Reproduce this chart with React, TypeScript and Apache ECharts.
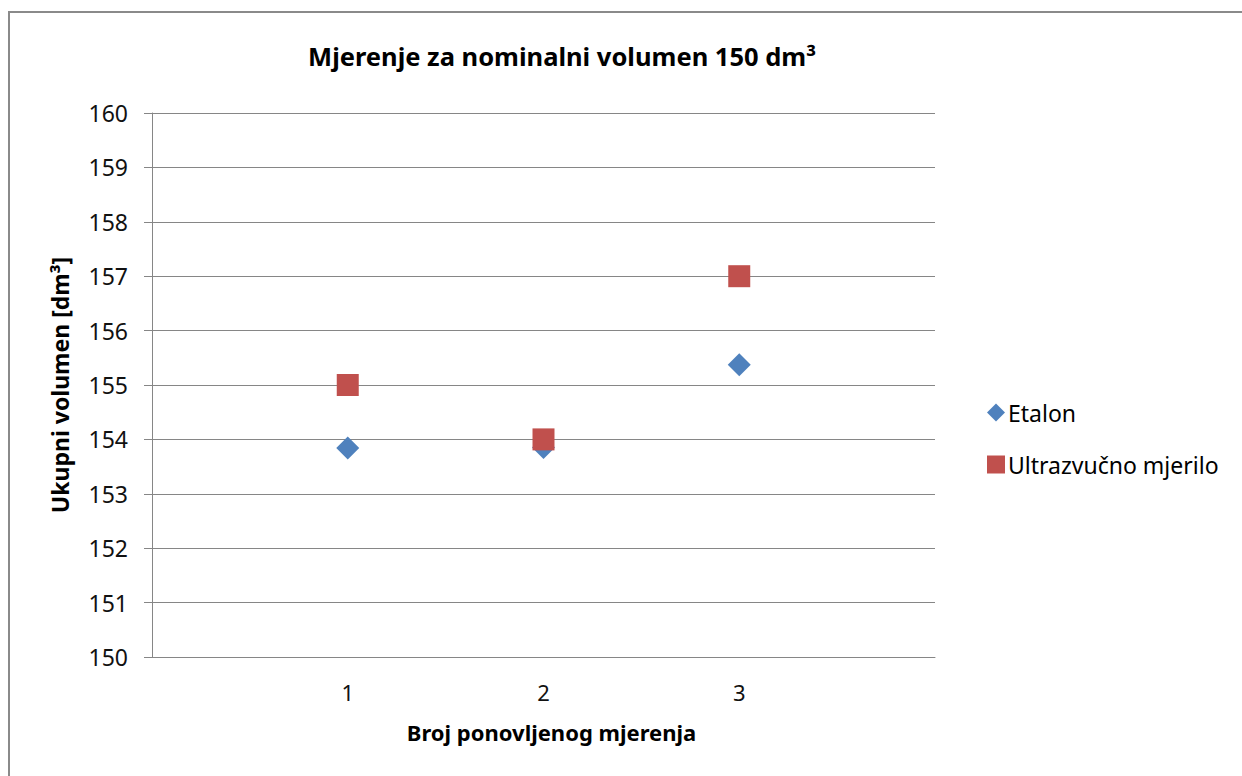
import React, { useEffect, useRef } from "react";
import * as echarts from "echarts";

const titleText = "Mjerenje za nominalni volumen 150 dm³";
const xName = "Broj ponovljenog mjerenja";
const yName = "Ukupni volumen [dm³]";
const xValues = [1, 2, 3];
const etalon = [153.84, 153.85, 155.37];
const ultra = [155, 154, 157];
const seriesNames = ["Etalon", "Ultrazvučno mjerilo"];
const FONT = "'Noto Sans', 'Open Sans', sans-serif";

export default function App() {
  const ref = useRef<HTMLDivElement>(null);
  useEffect(() => {
    if (!ref.current) return;
    const chart = echarts.init(ref.current, null, { renderer: "svg" });
    chart.setOption({
      animation: false,
      backgroundColor: "#ffffff",
      textStyle: { fontFamily: FONT },
      title: {
        text: titleText,
        left: 557,
        textAlign: "center",
        top: 38,
        textStyle: { fontSize: 25.5, fontWeight: "bold", color: "#000", fontFamily: FONT },
      },
      graphic: [
        {
          type: "rect",
          shape: { x: 9, y: 12, width: 1400, height: 1000 },
          style: { fill: "none", stroke: "#8a8a8a", lineWidth: 2 },
          silent: true,
        },
      ],
      legend: {
        orient: "vertical",
        left: 982,
        top: 396,
        itemGap: 29,
        itemWidth: 18,
        itemHeight: 18,
        textStyle: { fontSize: 23, color: "#000", fontFamily: FONT, padding: [0, 0, 0, -2] },
        data: [
          { name: seriesNames[0], icon: "diamond", itemStyle: { opacity: 1 } },
          { name: seriesNames[1], icon: "rect", itemStyle: { opacity: 1 } },
        ],
      },
      grid: { left: 152, top: 113, right: 307, bottom: 119 },
      xAxis: {
        type: "value",
        min: 0,
        max: 4,
        interval: 1,
        name: xName,
        nameLocation: "middle",
        nameGap: 64,
        nameTextStyle: {
          fontSize: 22,
          fontWeight: "bold",
          color: "#000",
          fontFamily: FONT,
          padding: [0, 0, 0, 16],
        },
        axisLine: { show: true, lineStyle: { color: "#868686", width: 1 } },
        axisTick: { show: false },
        splitLine: { show: false },
        axisLabel: {
          fontSize: 22,
          color: "#111",
          margin: 24,
          formatter: (v: number) => (xValues.includes(v) ? String(v) : ""),
        },
      },
      yAxis: {
        type: "value",
        min: 150,
        max: 160,
        interval: 1,
        name: yName,
        nameLocation: "middle",
        nameGap: 81,
        nameRotate: 90,
        nameTextStyle: { fontSize: 23, fontWeight: "bold", color: "#000", fontFamily: FONT },
        axisLine: { show: true, lineStyle: { color: "#868686", width: 1 } },
        axisTick: { show: true, length: 8, lineStyle: { color: "#868686" } },
        splitLine: { show: true, lineStyle: { color: "#868686", width: 1 } },
        axisLabel: { fontSize: 23, color: "#111", margin: 24 },
      },
      series: [
        {
          name: seriesNames[0],
          type: "scatter",
          symbol: "diamond",
          symbolSize: 23,
          itemStyle: { color: "#4F81BD", opacity: 1 },
          data: xValues.map((x, i) => [x, etalon[i]]),
          z: 2,
        },
        {
          name: seriesNames[1],
          type: "scatter",
          symbol: "rect",
          symbolSize: 22,
          itemStyle: { color: "#C0504D", opacity: 1 },
          data: xValues.map((x, i) => [x, ultra[i]]),
          z: 3,
        },
      ],
    });
    return () => chart.dispose();
  }, []);
  return <div ref={ref} style={{ width: 1242, height: 776, position: "absolute", left: 0, top: 0 }} />;
}
